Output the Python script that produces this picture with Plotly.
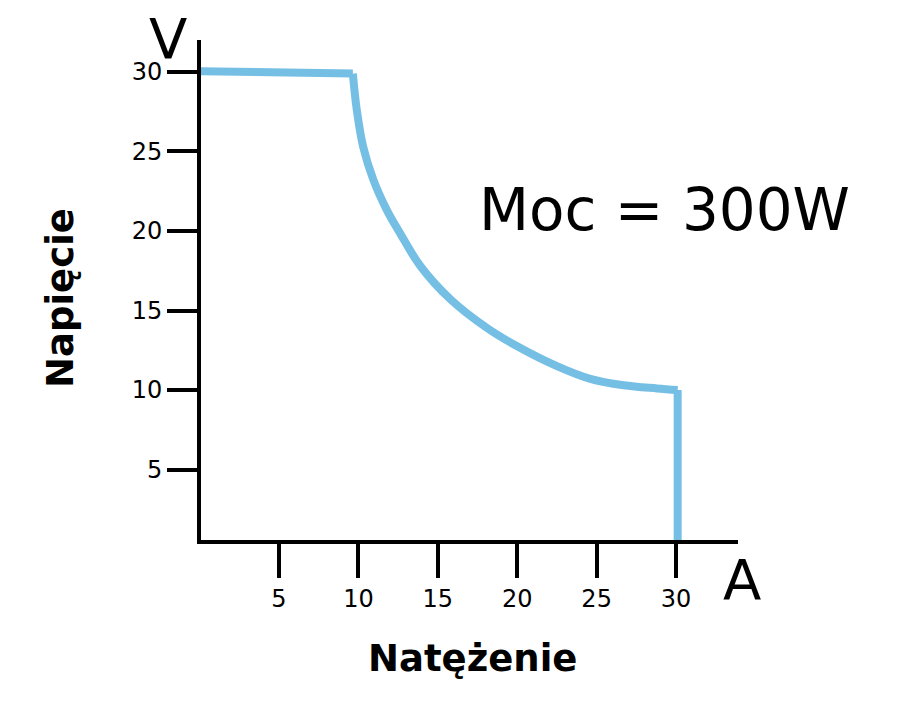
import plotly.graph_objects as go

# Data (current in A, voltage in V)
flat_I = [0.0, 9.65]
flat_V = [30.05, 29.9]

curve_I = [9.65, 9.9, 10.3, 10.95, 11.8, 12.6, 13.9, 15.8, 18.1, 20.0, 22.5, 24.6, 26.7, 28.8, 30.1]
curve_V = [29.9, 27.6, 25.3, 23.2, 21.3, 19.9, 17.8, 15.7, 13.9, 12.75, 11.5, 10.7, 10.3, 10.1, 10.0]

drop_I = [30.1, 30.1]
drop_V = [10.0, 0.0]

x_ticks = [5, 10, 15, 20, 25, 30]
y_ticks = [5, 10, 15, 20, 25, 30]

line_color = "#75BFE5"
lw = 8

fig = go.Figure()
fig.add_trace(go.Scatter(x=flat_I, y=flat_V, mode="lines",
                         line=dict(color=line_color, width=lw), showlegend=False))
fig.add_trace(go.Scatter(x=curve_I, y=curve_V, mode="lines",
                         line=dict(color=line_color, width=lw, shape="spline", smoothing=1.0),
                         showlegend=False))
fig.add_trace(go.Scatter(x=drop_I, y=drop_V, mode="lines",
                         line=dict(color=line_color, width=lw), showlegend=False))

axis_common = dict(showgrid=False, zeroline=False, showline=True, linecolor="black",
                   linewidth=4, ticks="outside", tickwidth=4, tickcolor="black",
                   tickfont=dict(family="DejaVu Sans", size=24, color="black"))

fig.update_xaxes(range=[0.09, 33.9], tickvals=x_ticks, ticklen=34, **axis_common)
fig.update_yaxes(range=[0.57, 32.01], tickvals=y_ticks, ticklen=30, **axis_common)

ann_font = dict(family="DejaVu Sans", color="black")
fig.add_annotation(text="V", x=-0.0615, y=1.004, xref="paper", yref="paper",
                   showarrow=False, xanchor="center", yanchor="middle",
                   font=dict(size=56, **ann_font))
fig.add_annotation(text="A", x=1.0074, y=-0.078, xref="paper", yref="paper",
                   showarrow=False, xanchor="center", yanchor="middle",
                   font=dict(size=56, **ann_font))
fig.add_annotation(text="Moc = 300W", x=0.8622, y=0.66, xref="paper", yref="paper",
                   showarrow=False, xanchor="center", yanchor="middle",
                   font=dict(size=58, **ann_font))
fig.add_annotation(text="<b>Napięcie</b>", x=-0.2626, y=0.484, xref="paper", yref="paper",
                   showarrow=False, xanchor="center", yanchor="middle", textangle=-90,
                   font=dict(size=37, **ann_font))
fig.add_annotation(text="<b>Natężenie</b>", x=0.5047, y=-0.236, xref="paper", yref="paper",
                   showarrow=False, xanchor="center", yanchor="middle",
                   font=dict(size=37, **ann_font))

fig.update_layout(width=923, height=719, autosize=False,
                  margin=dict(l=193, r=193, t=32, b=187),
                  paper_bgcolor="white", plot_bgcolor="white")

fig.write_html("out.html")
